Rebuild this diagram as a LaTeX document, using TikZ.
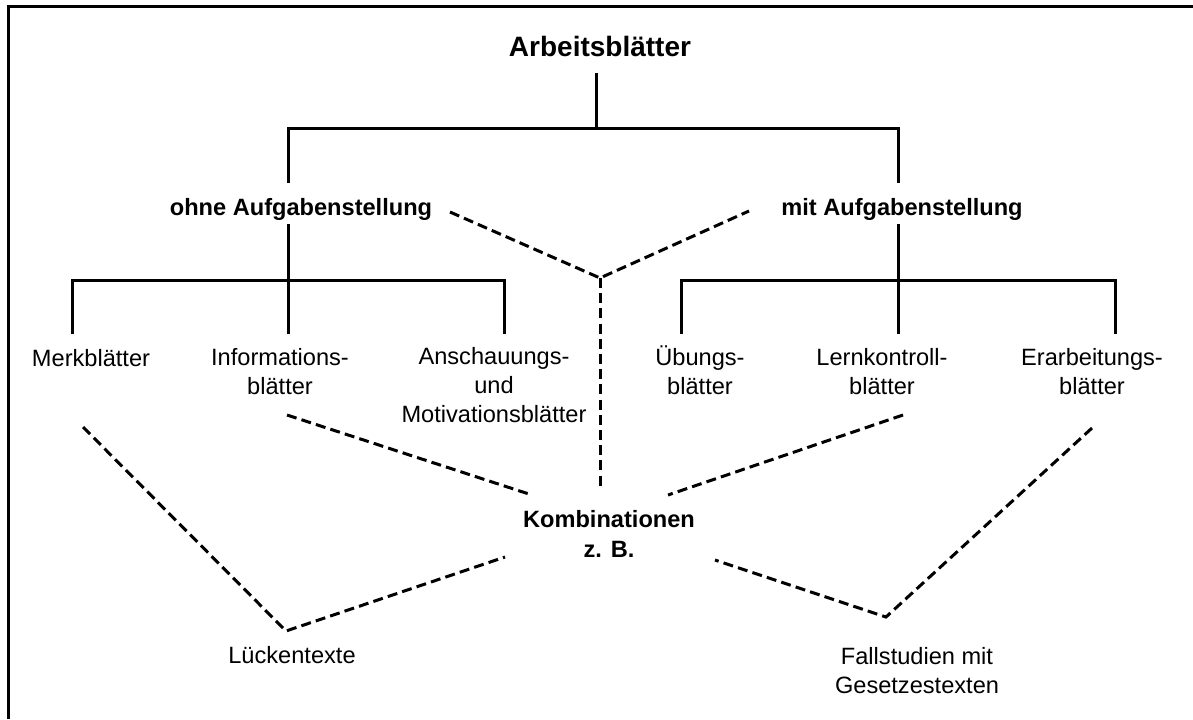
\documentclass[tikz,border=0pt]{standalone}
\usepackage{fontspec}
\setmainfont{Liberation Sans}
\usetikzlibrary{positioning}
\tikzset{>=latex}
\tikzset{
  tree/.style={line width=1.5pt},
  combi/.style={line width=1.5pt, dash pattern=on 5pt off 2.6pt},
  lbl/.style={align=center, anchor=base, inner sep=0pt, font=\fontsize{11.8}{14.3}\selectfont},
  head/.style={lbl, font=\fontsize{11.8}{15}\selectfont\bfseries}
}

\begin{document}
\begin{tikzpicture}[x=0.5pt,y=-0.5pt]
    \useasboundingbox (0,0) rectangle (1193,719);
    \draw[line width=1.5pt] (8,719) |- (1193,6);

    % texts (base = baseline of the last line)
    \node [head, font=\fontsize{14}{17}\selectfont\bfseries] (arb) at (600,56) {Arbeitsblätter};
    \node [head] (ohne) at (301,215) {ohne Aufgabenstellung};
    \node [head] (mit) at (902,215) {mit Aufgabenstellung};
    \node [lbl] (merk) at (91,366) {Merkblätter};
    \node [lbl] (info) at (280,394) {Informations-\\blätter};
    \node [lbl] (ansch) at (494,422) {Anschauungs-\\und\\Motivationsblätter};
    \node [lbl] (ueb) at (700,394) {Übungs-\\blätter};
    \node [lbl] (lern) at (882,394) {Lernkontroll-\\blätter};
    \node [lbl] (erarb) at (1092,394) {Erarbeitungs-\\blätter};
    \node [head] (kombi) at (609,557) {Kombinationen\\z. B.};
    \node [lbl] (lueck) at (292,663) {Lückentexte};
    \node [lbl] (fall) at (917,693) {Fallstudien mit\\Gesetzestexten};

    % ends of the connectors
    \coordinate (arb-b) at (596,73);
    \coordinate (arb-j) at (596,128);
    \coordinate (ohne-t) at (288,183);
    \coordinate (ohne-b) at (288,224);
    \coordinate (mit-t) at (898,183);
    \coordinate (mit-b) at (898,224);
    \coordinate (ohne-j) at (288,280);
    \coordinate (mit-j) at (898,280);
    \coordinate (merk-t) at (72,334);
    \coordinate (info-t) at (288,334);
    \coordinate (ansch-t) at (504,334);
    \coordinate (ueb-t) at (681,334);
    \coordinate (lern-t) at (898,334);
    \coordinate (erarb-t) at (1115,334);
    \coordinate (ohne-r) at (450,212);
    \coordinate (mit-l) at (749,211);
    \coordinate (mid) at (600,278);
    \coordinate (kombi-t) at (600,488);
    \coordinate (kombi-tl) at (532,495);
    \coordinate (kombi-tr) at (668,495);
    \coordinate (kombi-bl) at (505,557);
    \coordinate (kombi-br) at (715,560);
    \coordinate (info-b) at (287,415);
    \coordinate (lern-b) at (903,415);
    \coordinate (merk-b) at (83,427);
    \coordinate (erarb-b) at (1092,428);
    \coordinate (lueck-t) at (286,631);
    \coordinate (fall-t) at (886,617);

    \begin{scope}[tree]
    \draw (arb-b) -- (arb-j);
    \draw (ohne-t) |- (arb-j) -| (mit-t);
    \draw (ohne-b) -- (ohne-j);
    \draw (mit-b) -- (mit-j);
    \draw (merk-t) |- (ohne-j) -| (ansch-t);
    \draw (info-t) -- (ohne-j);
    \draw (ueb-t) |- (mit-j) -| (erarb-t);
    \draw (lern-t) -- (mit-j);
    \end{scope}

    \begin{scope}[combi]
    \draw (ohne-r) -- (mid) -- (mit-l);
    \draw (mid) -- (kombi-t);
    \draw (info-b) -- (kombi-tl);
    \draw (lern-b) -- (kombi-tr);
    \draw (merk-b) -- (lueck-t) -- (kombi-bl);
    \draw (erarb-b) -- (fall-t) -- (kombi-br);
    \end{scope}

\end{tikzpicture}
\end{document}
